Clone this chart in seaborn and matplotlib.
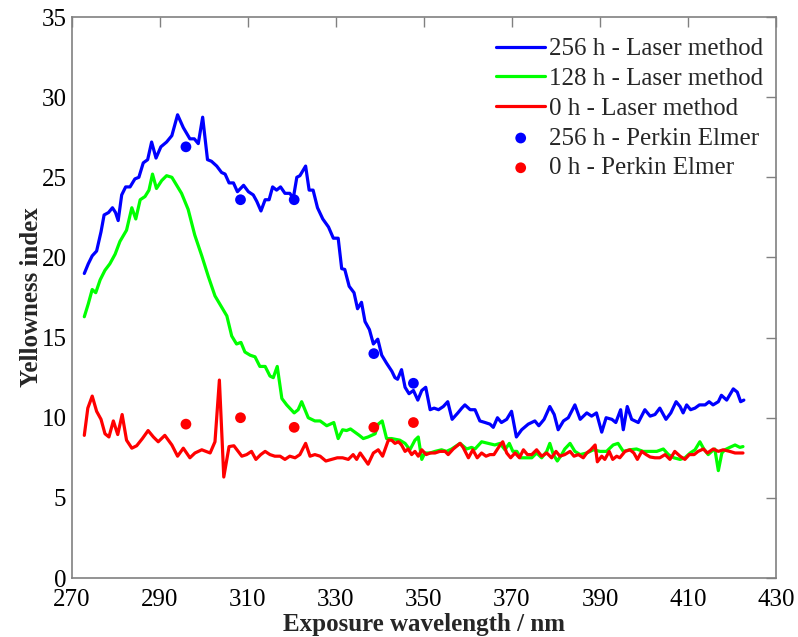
import matplotlib
matplotlib.use("Agg")
import matplotlib.pyplot as plt
import seaborn as sns

# Yellowness index vs exposure wavelength (laser method scans)
wl_256 = [272.8, 273.7, 274.6, 275.6, 276.6, 277.3, 278.3, 279.2, 279.9, 280.5,
          281.3, 282.2, 283.2, 284.3, 285.2, 286.2, 287.2, 288.1, 289.1, 290.2,
          291.5, 292.7, 294.0, 295.3, 296.8, 297.8, 298.7, 299.7, 300.8, 301.7,
          302.9, 304.0, 304.8, 305.7, 306.7, 307.6, 309.0, 310.1, 311.2, 312.0,
          312.95, 313.9, 314.8, 315.6, 316.5, 317.4, 318.4, 319.5, 320.3, 321.1,
          321.8, 323.1, 323.9, 324.8, 325.8, 327.0, 328.3, 329.4, 330.5, 331.3,
          332.0, 333.0, 334.1, 334.9, 335.8, 336.6, 337.6, 338.5, 339.5, 340.4,
          341.5, 342.7, 343.4, 344.0, 344.9, 345.7, 346.6, 347.6, 348.6, 349.5,
          350.4, 351.4, 352.3, 353.3, 354.4, 355.4, 356.4, 357.7, 358.6, 359.3,
          360.5, 361.6, 362.7, 363.9, 365.0, 365.75, 366.7, 367.6, 368.8, 369.9,
          371.0, 372.2, 373.7, 375.2, 376.1, 377.3, 378.6, 379.6, 380.5, 381.7,
          382.8, 384.3, 385.5, 387.0, 388.1, 389.2, 390.4, 391.4, 392.7, 393.6,
          394.7, 395.3, 396.2, 397.2, 398.7, 400.2, 401.4, 402.5, 403.6, 405.0,
          406.1, 407.3, 408.2, 408.9, 409.7, 410.6, 411.6, 412.6, 413.9, 414.8,
          415.7, 416.9, 417.6, 418.8, 420.3, 421.2, 421.97, 422.7]
yi_256 = [19.0, 19.6, 20.1, 20.4, 21.6, 22.65, 22.8, 23.1, 22.8, 22.3,
          23.9, 24.4, 24.4, 24.9, 25.0, 25.9, 26.1, 27.2, 26.2, 26.9,
          27.2, 27.6, 28.9, 28.1, 27.4, 27.4, 27.1, 28.75, 26.1, 26.0,
          25.7, 25.3, 25.2, 24.65, 24.65, 24.1, 24.5, 24.1, 23.9, 23.5,
          22.9, 23.6, 23.6, 24.4, 24.2, 24.4, 24.0, 24.0, 23.7, 25.0,
          25.1, 25.7, 24.2, 24.2, 23.1, 22.4, 21.9, 21.2, 21.2, 19.3,
          19.25, 18.2, 17.8, 16.8, 17.2, 16.0, 15.5, 14.6, 14.9, 13.9,
          13.4, 12.9, 12.5, 12.4, 13.0, 11.9, 11.5, 11.7, 11.1, 11.7,
          11.9, 10.5, 10.6, 10.5, 10.7, 11.0, 9.9, 10.3, 10.6, 10.8,
          10.5, 10.5, 9.8, 9.7, 9.6, 9.4, 10.0, 9.7, 9.9, 10.4,
          8.8, 9.25, 9.6, 9.8, 9.5, 9.9, 10.7, 10.2, 9.25, 9.8,
          10.0, 10.8, 9.9, 10.3, 10.1, 10.3, 9.1, 10.0, 9.9, 9.7,
          10.5, 9.25, 10.7, 9.9, 9.7, 10.5, 10.1, 10.2, 10.6, 9.9,
          10.3, 11.0, 10.7, 10.3, 10.8, 10.5, 10.6, 10.8, 10.8, 11.0,
          10.8, 11.0, 11.4, 11.1, 11.8, 11.6, 11.0, 11.1]

wl_128 = [272.8, 273.7, 274.6, 275.4, 276.4, 277.5, 278.6, 279.8, 280.9, 282.4,
          283.6, 284.5, 285.5, 286.6, 287.5, 288.3, 289.2, 290.4, 291.5, 292.7,
          293.8, 294.9, 296.4, 297.9, 299.5, 301.0, 302.5, 303.8, 305.2, 306.3,
          307.4, 308.4, 309.3, 310.5, 311.6, 312.7, 313.9, 315.0, 315.75, 316.65,
          317.7, 318.8, 320.5, 321.4, 322.2, 323.7, 325.2, 326.4, 327.9, 329.5,
          330.5, 331.5, 332.4, 333.3, 334.3, 335.3, 336.2, 337.3, 338.9, 339.6,
          340.5, 341.5, 342.65, 344.5, 345.7, 346.8, 347.95, 348.7, 349.5, 350.2,
          351.4, 352.5, 354.0, 355.1, 356.3, 358.2, 359.7, 360.8, 361.6, 363.1,
          364.6, 366.1, 367.3, 368.4, 369.4, 370.2, 371.1, 372.0, 373.3, 374.5,
          375.6, 376.75, 377.9, 378.6, 379.4, 380.3, 381.3, 382.0, 383.2, 384.3,
          385.5, 387.0, 388.5, 390.0, 391.5, 393.0, 394.1, 395.3, 396.8, 398.3,
          399.8, 401.4, 402.9, 404.4, 405.55, 406.8, 408.2, 409.3, 410.5, 411.6,
          412.7, 413.6, 414.6, 415.4, 416.1, 416.9, 417.7, 418.4, 419.5, 420.7,
          421.8, 422.5]
yi_128 = [16.3, 17.1, 18.0, 17.8, 18.6, 19.2, 19.6, 20.2, 21.0, 21.7,
          23.1, 22.4, 23.6, 23.8, 24.2, 25.2, 24.3, 24.8, 25.1, 25.0,
          24.5, 24.0, 23.0, 21.4, 20.1, 18.8, 17.6, 17.0, 16.35, 15.1,
          14.6, 14.7, 14.1, 13.9, 13.8, 13.2, 13.2, 12.6, 12.5, 13.2,
          11.2, 10.8, 10.3, 10.5, 11.0, 10.0, 9.8, 9.8, 9.5, 9.7,
          8.7, 9.25, 9.2, 9.3, 9.1, 8.9, 8.7, 8.8, 9.0, 9.6,
          9.8, 8.7, 8.7, 8.6, 8.4, 8.0, 8.6, 8.8, 7.4, 7.8,
          7.8, 7.9, 8.0, 7.9, 8.05, 8.4, 8.05, 8.15, 8.05, 8.5,
          8.4, 8.3, 8.4, 8.0, 8.4, 7.9, 7.9, 7.5, 7.5, 7.5,
          7.8, 7.5, 7.9, 8.4, 7.7, 7.3, 7.7, 8.05, 8.4, 7.9,
          7.7, 7.8, 8.0, 7.9, 7.9, 8.3, 8.4, 7.9, 8.0, 8.05,
          7.9, 7.9, 7.9, 8.05, 7.7, 7.5, 7.4, 7.5, 7.8, 8.0,
          8.5, 8.05, 7.7, 7.9, 8.05, 6.7, 7.8, 8.0, 8.15, 8.3,
          8.15, 8.2]

wl_0 = [272.8, 273.6, 274.6, 275.6, 276.6, 277.5, 278.4, 279.4, 280.4, 281.4,
        282.4, 283.6, 284.7, 286.0, 287.3, 288.5, 289.6, 291.1, 292.7, 294.0,
        295.3, 296.8, 297.95, 299.5, 301.4, 302.5, 303.5, 304.5, 305.7, 306.8,
        308.6, 309.7, 310.8, 311.8, 312.9, 313.9, 315.0, 316.1, 317.3, 318.4,
        319.5, 320.7, 321.8, 323.1, 324.1, 325.2, 326.4, 327.7, 329.0, 330.3,
        331.5, 332.8, 333.9, 334.7, 335.5, 337.3, 338.5, 339.6, 340.6, 341.9,
        342.65, 343.4, 344.2, 344.9, 345.7, 346.4, 347.2, 347.95, 348.7, 349.5,
        350.5, 351.4, 352.5, 353.6, 354.8, 355.5, 356.65, 358.2, 358.9, 360.1,
        361.1, 362.1, 363.1, 364.1, 365.0, 365.9, 367.3, 367.9, 368.8, 369.7,
        370.7, 371.7, 372.6, 373.5, 374.5, 375.6, 376.75, 377.9, 379.0, 380.0,
        380.9, 382.0, 383.2, 384.1, 385.1, 386.2, 387.0, 387.9, 388.9, 389.4,
        390.4, 391.1, 392.1, 392.9, 393.8, 394.5, 395.7, 396.8, 397.7, 398.5,
        399.5, 400.5, 401.4, 402.5, 403.6, 404.8, 405.9, 407.0, 408.2, 409.3,
        410.3, 411.4, 412.3, 413.5, 414.4, 415.75, 416.9, 418.0, 419.5, 420.7,
        421.7, 422.5]
yi_0 = [8.9, 10.6, 11.35, 10.4, 9.9, 9.0, 8.8, 9.8, 8.95, 10.2,
        8.6, 8.1, 8.25, 8.7, 9.2, 8.8, 8.5, 8.9, 8.3, 7.6,
        8.1, 7.5, 7.8, 8.0, 7.8, 8.5, 12.35, 6.3, 8.2, 8.25,
        7.6, 7.7, 7.9, 7.4, 7.7, 7.9, 7.7, 7.6, 7.6, 7.4,
        7.6, 7.5, 7.7, 8.4, 7.6, 7.7, 7.6, 7.3, 7.4, 7.5,
        7.5, 7.4, 7.7, 7.4, 7.8, 7.1, 7.8, 8.0, 7.6, 8.6,
        8.6, 8.4, 8.5, 8.3, 7.9, 8.05, 7.7, 7.9, 7.6, 8.0,
        7.7, 7.8, 7.8, 7.9, 7.9, 7.7, 8.05, 8.4, 8.15, 7.5,
        8.0, 7.5, 7.8, 7.6, 7.7, 7.7, 8.3, 8.5, 7.8, 7.5,
        7.8, 7.5, 8.0, 7.7, 7.7, 8.0, 7.6, 7.8, 7.5, 7.9,
        7.6, 7.7, 7.9, 7.6, 7.7, 7.5, 7.8, 8.0, 8.3, 7.25,
        7.6, 7.4, 7.9, 7.4, 7.6, 7.5, 7.9, 8.0, 7.8, 7.4,
        7.9, 7.7, 7.55, 7.5, 7.5, 7.7, 7.4, 7.9, 7.6, 7.4,
        7.7, 7.7, 7.9, 8.05, 7.8, 8.05, 7.9, 8.0, 7.9, 7.8,
        7.8, 7.8]

# Spectrophotometer (Perkin Elmer) reference points
wl_pe = [295.9, 308.3, 320.5, 338.6, 347.6]
yi_pe_256 = [26.9, 23.6, 23.6, 14.0, 12.15]
yi_pe_0 = [9.6, 10.0, 9.4, 9.4, 9.7]

x_ticks = [270, 290, 310, 330, 350, 370, 390, 410, 430]
y_ticks = [0, 5, 10, 15, 20, 25, 30, 35]

sns.set_theme(style="white")
plt.rcParams["font.family"] = ["Liberation Serif", "DejaVu Serif"]

fig = plt.figure(figsize=(7.98, 6.37), dpi=100)
ax = fig.add_axes([0.0902, 0.0926, 0.8822, 0.8807])

lw = 2.3
sns.lineplot(x=wl_256, y=yi_256, ax=ax, color="#0000ff", lw=lw, sort=False,
             estimator=None, label="256 h - Laser method")
sns.lineplot(x=wl_128, y=yi_128, ax=ax, color="#00ff00", lw=lw, sort=False,
             estimator=None, label="128 h - Laser method")
sns.lineplot(x=wl_0, y=yi_0, ax=ax, color="#ff0000", lw=lw, sort=False,
             estimator=None, label="0 h - Laser method")
sns.scatterplot(x=wl_pe, y=yi_pe_256, ax=ax, color="#0000ff", s=60,
                edgecolor="none", label="256 h - Perkin Elmer", zorder=5)
sns.scatterplot(x=wl_pe, y=yi_pe_0, ax=ax, color="#ff0000", s=60,
                edgecolor="none", label="0 h - Perkin Elmer", zorder=5)

ax.set_xlim(270, 430)
ax.set_ylim(0, 35)
ax.set_xticks(x_ticks)
ax.set_yticks(y_ticks)
ax.tick_params(axis="both", which="both", direction="in", length=7, width=1,
               color="#808080", labelsize=18, labelcolor="black",
               top=True, right=True)
ax.tick_params(axis="x", pad=8)
ax.tick_params(axis="y", pad=4)
for sp in ax.spines.values():
    sp.set_color("#808080")
    sp.set_linewidth(1.2)

ax.set_xlabel("Exposure wavelength / nm", fontsize=18, fontweight="bold",
              labelpad=1)
ax.set_ylabel("Yellowness index", fontsize=18, fontweight="bold", labelpad=-1)

leg = ax.legend(loc="upper right", bbox_to_anchor=(0.9957, 0.9807),
                frameon=False, fontsize=18, handlelength=1.95,
                handletextpad=0.15, labelspacing=0.29, borderaxespad=0.0)

fig.savefig("out.png", dpi=100)
